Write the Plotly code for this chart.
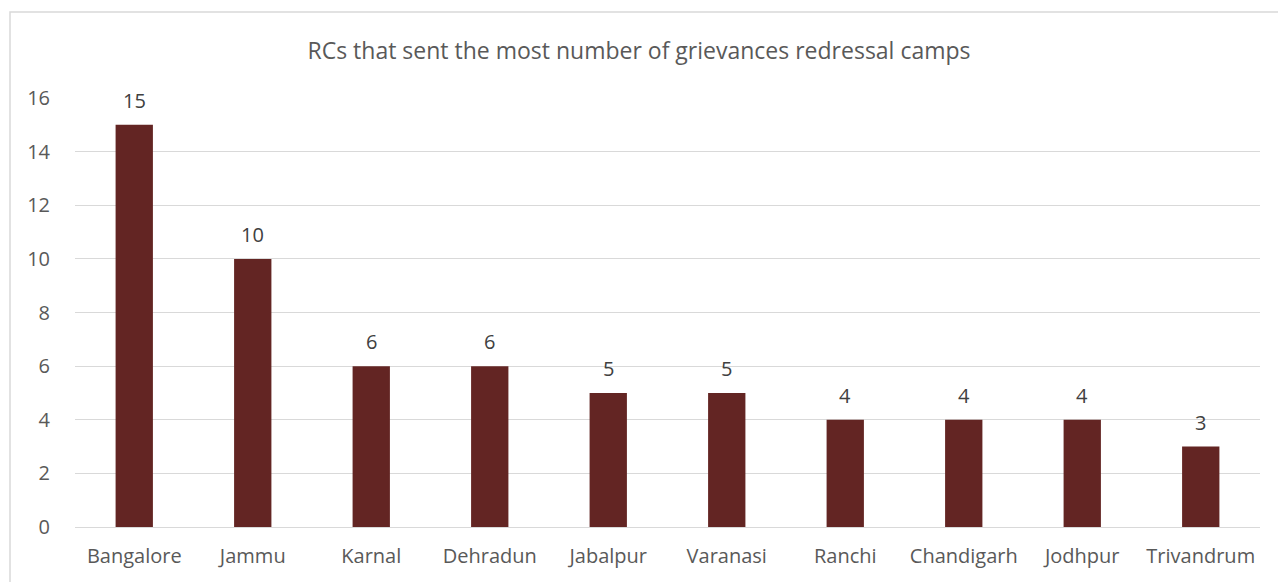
import plotly.graph_objects as go

categories = ["Bangalore", "Jammu", "Karnal", "Dehradun", "Jabalpur", "Varanasi",
              "Ranchi", "Chandigarh", "Jodhpur", "Trivandrum"]
camps = [15, 10, 6, 6, 5, 5, 4, 4, 4, 3]
y_ticks = [0, 2, 4, 6, 8, 10, 12, 14, 16]

FONT = "Open Sans, Liberation Sans, sans-serif"
TXT = "#595959"

fig = go.Figure(go.Bar(
    x=categories, y=camps,
    marker=dict(color="#632523", line=dict(width=0)),
    width=0.315,
    hoverinfo="x+y",
))

for c, v in zip(categories, camps):
    fig.add_annotation(x=c, y=v, text=str(v), showarrow=False,
                       yanchor="bottom", yshift=9,
                       font=dict(size=20, color="#404040", family=FONT))

fig.update_layout(
    width=1278, height=582,
    margin=dict(l=75, r=18, t=98, b=55),
    paper_bgcolor="white", plot_bgcolor="white",
    title=dict(text="RCs that sent the most number of grievances redressal camps",
               x=0.5, xref="container", xanchor="center", y=0.913, yanchor="middle",
               font=dict(size=23, color=TXT, family=FONT)),
    font=dict(family=FONT, color=TXT),
    showlegend=False,
    xaxis=dict(showgrid=False, showline=False, ticks="",
               tickfont=dict(size=20, color=TXT, family=FONT),
               ticklabelstandoff=15),
    yaxis=dict(range=[0, 16], tickvals=y_ticks, showgrid=True, gridcolor="#d9d9d9",
               gridwidth=1, zeroline=True, zerolinecolor="#d9d9d9", zerolinewidth=1,
               showline=False, ticks="",
               tickfont=dict(size=20, color=TXT, family=FONT),
               ticklabelstandoff=24),
    shapes=[dict(type="rect", xref="paper", yref="paper",
                 x0=(10 - 75) / 1185, x1=(1300 - 75) / 1185,
                 y0=-(600 - 527) / 429, y1=1 + (98 - 12) / 429,
                 line=dict(color="#d9d9d9", width=1.5), fillcolor="rgba(0,0,0,0)",
                 layer="below")],
)

fig.write_html("out.html", config={"displayModeBar": False},
               post_script="document.body.style.margin='0';")
